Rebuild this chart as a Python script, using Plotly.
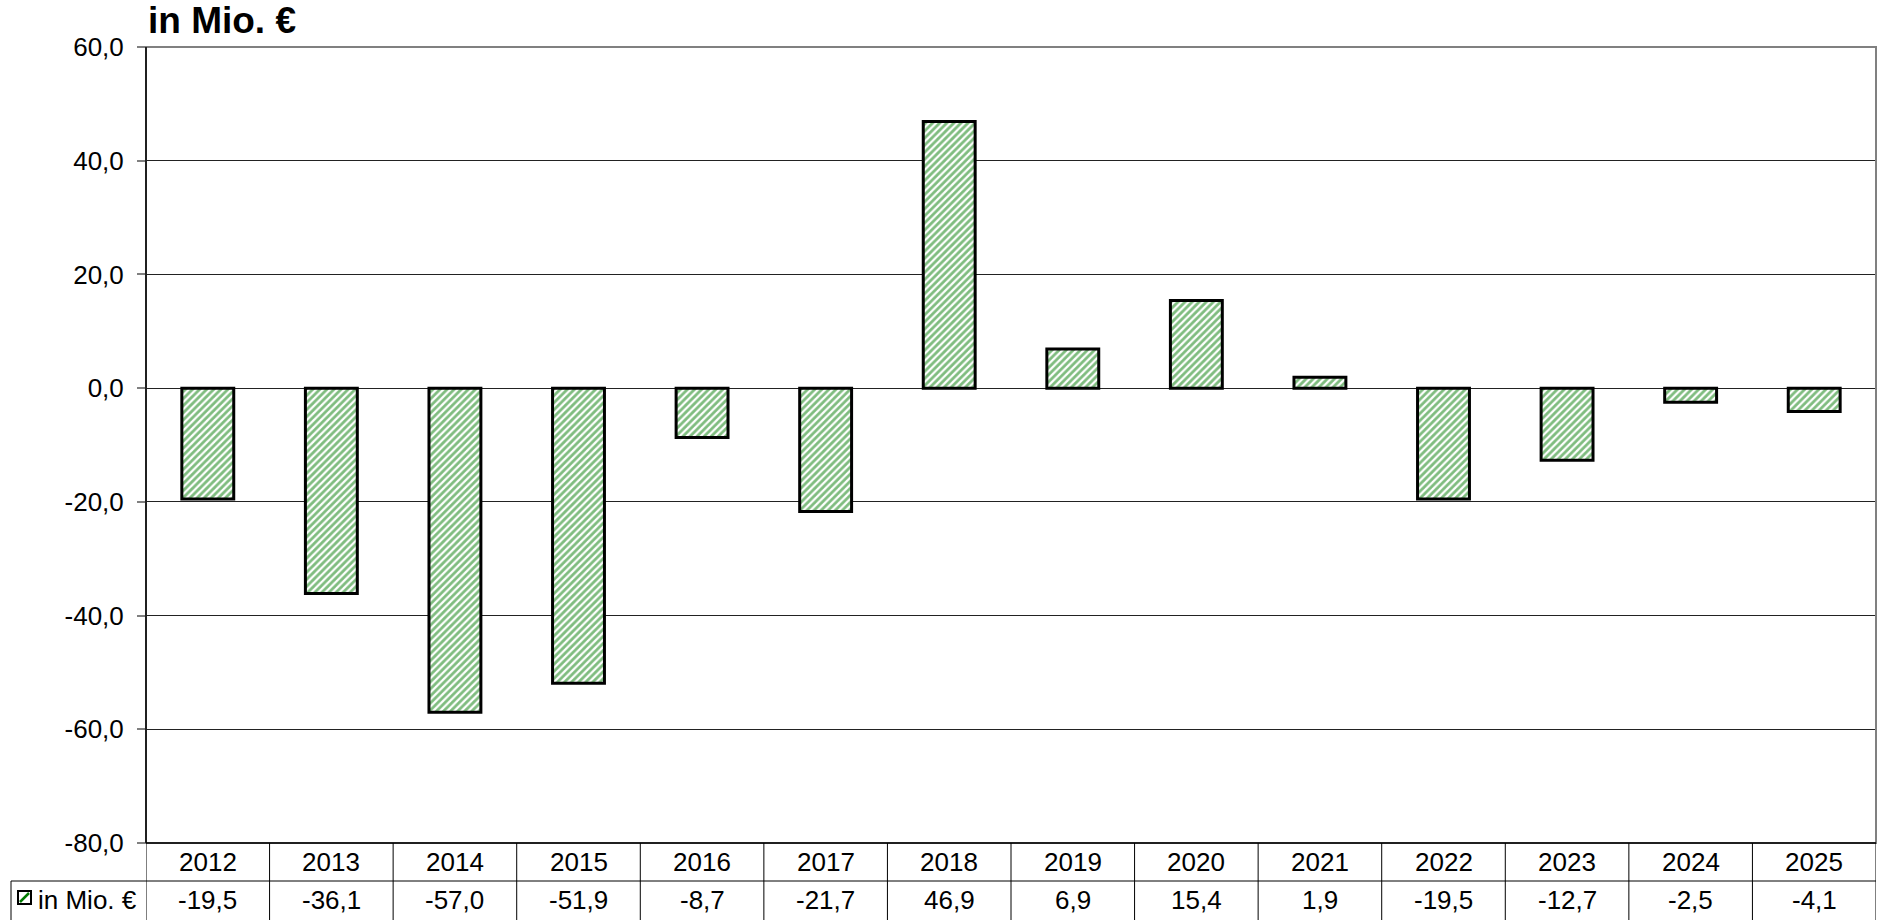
import plotly.graph_objects as go

# Jahreswerte in Mio. €
years = ["2012", "2013", "2014", "2015", "2016", "2017", "2018",
         "2019", "2020", "2021", "2022", "2023", "2024", "2025"]
values = [-19.5, -36.1, -57.0, -51.9, -8.7, -21.7, 46.9,
          6.9, 15.4, 1.9, -19.5, -12.7, -2.5, -4.1]
y_ticks = [60, 40, 20, 0, -20, -40, -60, -80]
series_name = "in Mio. €"

W, H = 1877, 920
L, R, T, B = 146, 1, 47, 77
plot_h = H - T - B
plot_w = W - L - R
FONT = "Liberation Sans, Arial, sans-serif"
GREEN = "#007a00"
FS = 26


def de(v):
    """German decimal notation with a plain hyphen as minus sign"""
    return f"{v:.1f}".replace(".", ",")


def py(px):
    """pixel row -> paper y"""
    return (H - B - px) / plot_h


def px_(px):
    """pixel column -> paper x"""
    return (px - L) / plot_w


fig = go.Figure()
fig.add_trace(go.Bar(
    x=years, y=values, width=0.42,
    marker=dict(
        color="white",
        line=dict(color="black", width=3),
        pattern=dict(shape="/", fgcolor=GREEN, bgcolor="white",
                     size=5, solidity=0.55),
    ),
    hoverinfo="x+y", showlegend=False,
))

shapes = []
# plot area frame (grey top/right)
shapes.append(dict(type="rect", xref="paper", yref="paper", x0=0, x1=1, y0=0, y1=1,
                   line=dict(color="#808080", width=2), layer="above"))
# left axis
shapes.append(dict(type="line", xref="paper", yref="paper", x0=0, x1=0, y0=0, y1=1,
                   line=dict(color="black", width=1.5), layer="above"))

# data table under the chart
row_mid = py(881)
bottom = py(H + 5)
shapes.append(dict(type="line", xref="paper", yref="paper", x0=0, x1=1, y0=0, y1=0,
                   line=dict(color="black", width=1.5), layer="above"))
shapes.append(dict(type="line", xref="paper", yref="paper", x0=px_(11), x1=1,
                   y0=row_mid, y1=row_mid, line=dict(color="black", width=1)))
shapes.append(dict(type="line", xref="paper", yref="paper", x0=px_(11), x1=px_(11),
                   y0=row_mid, y1=bottom, line=dict(color="black", width=1)))
for i in range(len(years) + 1):
    shapes.append(dict(type="line", xref="x", yref="paper", x0=i - 0.5, x1=i - 0.5,
                       y0=0, y1=bottom, line=dict(color="black", width=1)))

# legend key in the table
shapes.append(dict(type="rect", xref="paper", yref="paper",
                   x0=px_(18), x1=px_(31), y0=py(904), y1=py(891),
                   line=dict(color="black", width=2), fillcolor="white"))
shapes.append(dict(type="line", xref="paper", yref="paper",
                   x0=px_(20), x1=px_(29), y0=py(902), y1=py(893),
                   line=dict(color=GREEN, width=2.5)))

annotations = []
for i, (yr, v) in enumerate(zip(years, values)):
    annotations.append(dict(x=i, xref="x", y=py(862), yref="paper", text=yr,
                            showarrow=False, font=dict(family=FONT, size=FS, color="black"),
                            xanchor="center", yanchor="middle"))
    annotations.append(dict(x=i, xref="x", y=py(900), yref="paper", text=de(v),
                            showarrow=False, font=dict(family=FONT, size=FS, color="black"),
                            xanchor="center", yanchor="middle"))
annotations.append(dict(x=px_(36), xref="paper", y=py(900), yref="paper", text=series_name,
                        showarrow=False, font=dict(family=FONT, size=FS, color="black"),
                        xanchor="left", yanchor="middle"))
# title
annotations.append(dict(x=px_(146), xref="paper", y=py(21), yref="paper",
                        text="<b>in Mio. €</b>", showarrow=False,
                        font=dict(family=FONT, size=37, color="black"),
                        xanchor="left", yanchor="middle"))

fig.update_layout(
    width=W, height=H,
    margin=dict(l=L, r=R, t=T, b=B, pad=0),
    paper_bgcolor="white", plot_bgcolor="white",
    font=dict(family=FONT, size=FS, color="black"),
    bargap=0.58,
    xaxis=dict(type="category", range=[-0.5, len(years) - 0.5], showticklabels=False,
               showgrid=False, zeroline=False, showline=False, ticks=""),
    yaxis=dict(range=[-80, 60], tickvals=y_ticks, ticktext=[de(t) for t in y_ticks],
               showgrid=True, gridcolor="#222222", gridwidth=1,
               zeroline=True, zerolinecolor="#222222", zerolinewidth=1,
               showline=False, ticks="outside", ticklen=8, tickcolor="#808080",
               tickwidth=1.5, ticklabelstandoff=8,
               tickfont=dict(family=FONT, size=FS, color="black")),
    shapes=shapes, annotations=annotations,
)

fig.write_html("out.html")
